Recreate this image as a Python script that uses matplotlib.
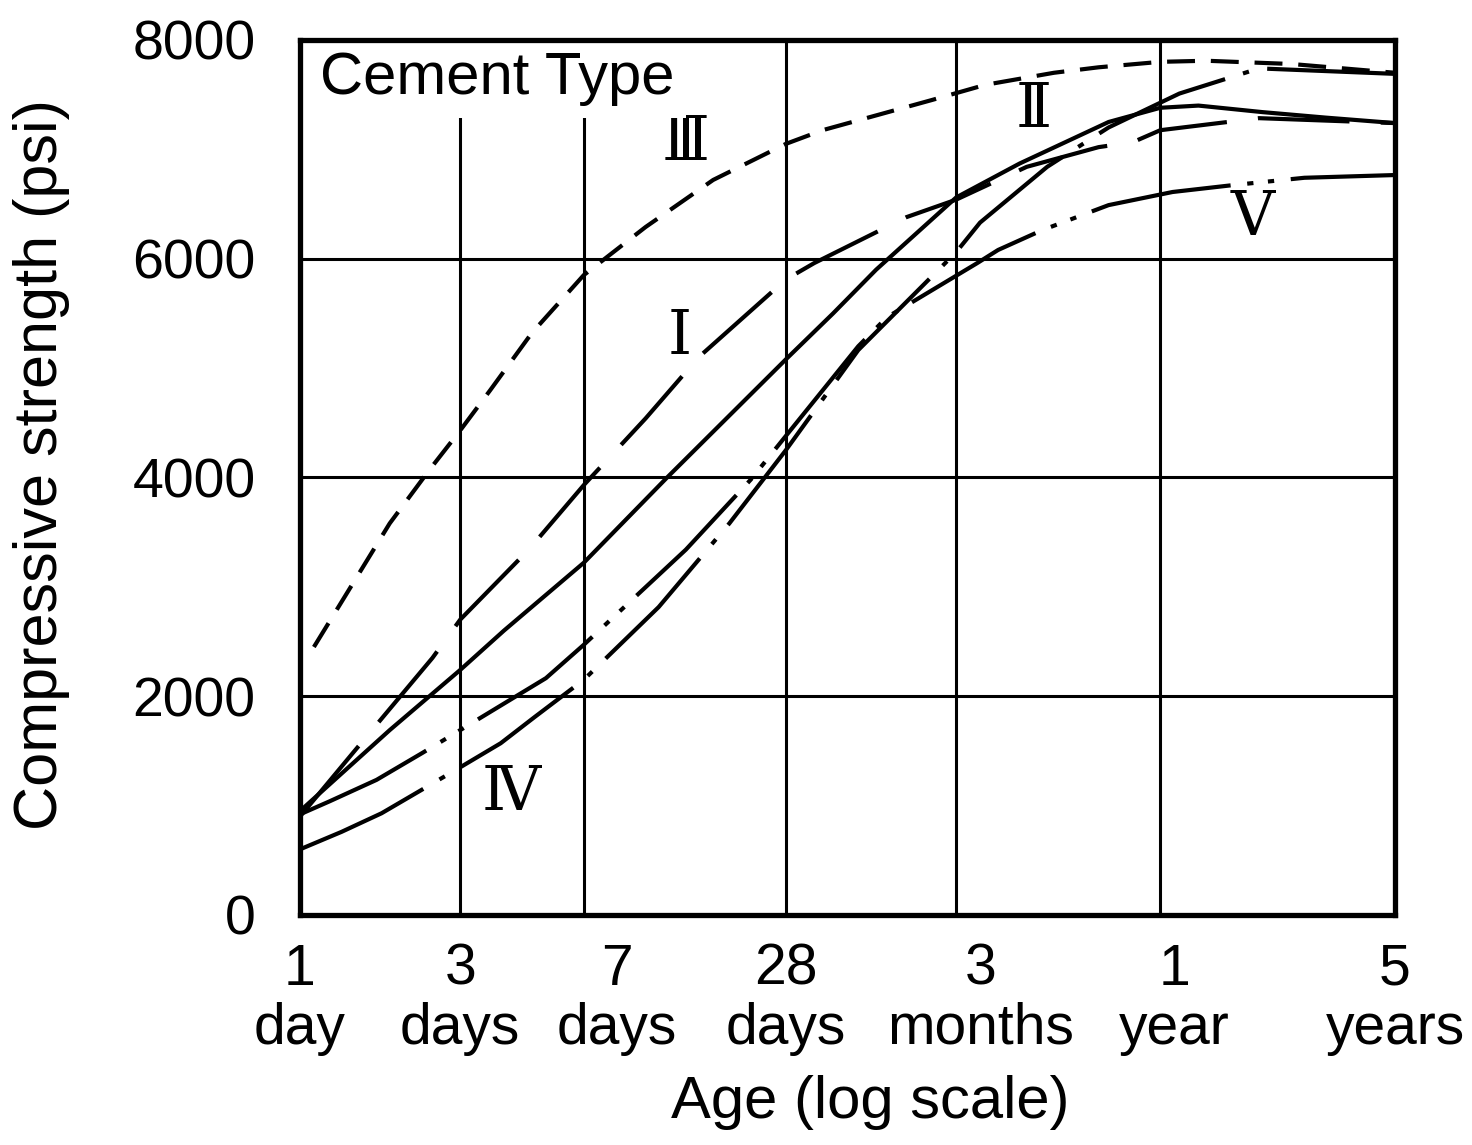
import matplotlib
matplotlib.use('Agg')
import matplotlib.pyplot as plt
from matplotlib.transforms import ScaledTranslation

plt.rcParams['font.family'] = ['Liberation Sans', 'DejaVu Sans']

# age ticks (days) and their labels
tick_days = [1, 3, 7, 28, 90, 365, 1825]
tick_labels = ['1\nday', '3\ndays', '7\ndays', '28\ndays', '3\nmonths', '1\nyear', '5\nyears']
ytick_vals = [0, 2000, 4000, 6000, 8000]

# strength curves (age in days, strength in psi)
days_i = [1, 1.436, 2.48, 3, 4.8, 7, 10.7, 15.4, 28, 34, 64, 90, 146, 239, 302, 365, 718, 1825]
str_i = [900, 1480, 2350, 2700, 3340, 3930, 4540, 5100, 5810, 5960, 6380, 6540, 6840, 7020, 7065, 7175, 7285, 7240]

days_ii = [1, 1.85, 3, 4.05, 7, 12.4, 28, 38.7, 52, 90, 139, 256, 365, 474, 737, 1135, 1825]
str_ii = [950, 1690, 2240, 2600, 3220, 4000, 5080, 5500, 5900, 6560, 6870, 7250, 7380, 7400, 7340, 7290, 7240]

days_iii = [1.1, 1.85, 2.43, 3, 3.69, 4.9, 7, 10.7, 17, 28, 36, 76, 110, 176, 239, 365, 500, 900, 1825]
str_iii = [2450, 3580, 4070, 4430, 4800, 5320, 5850, 6290, 6720, 7050, 7175, 7450, 7590, 7700, 7750, 7800, 7810, 7780, 7700]

days_iv = [1, 1.33, 1.75, 3, 3.96, 5.0, 7, 11.7, 19, 28, 46, 90, 106, 168, 256, 416, 718, 1825]
str_iv = [600, 760, 930, 1350, 1570, 1810, 2150, 2815, 3580, 4250, 5165, 6060, 6330, 6840, 7200, 7510, 7740, 7690]

days_v = [1, 1.227, 1.69, 2.31, 3, 5.4, 7, 14.1, 22, 28, 46, 56, 104, 120, 162, 256, 397, 589, 980, 1825]
str_v = [920, 1040, 1235, 1480, 1690, 2165, 2470, 3340, 3980, 4380, 5200, 5465, 5960, 6080, 6260, 6490, 6610, 6670, 6740, 6765]

# curve labels (roman numerals) placed next to their curves
label_text = ['\u2160', '\u2161', '\u2162', '\u2163', '\u2164']
label_days = [13.5, 153, 14.1, 4.25, 690]
label_str = [5280, 7360, 7057, 1115, 6370]

fig = plt.figure(figsize=(14.72, 11.45), dpi=100)
ax = fig.add_axes([0.2038, 0.2009, 0.7439, 0.7642])

lw = 3
ax.plot(days_i, str_i, color='black', lw=lw, dashes=(22, 7.5))
ax.plot(days_ii, str_ii, color='black', lw=lw)
ax.plot(days_iii, str_iii, color='black', lw=lw, dashes=(6.7, 3.8))
ax.plot(days_iv, str_iv, color='black', lw=lw, dashes=(33, 4.5, 1.5, 4.5))
ax.plot(days_v, str_v, color='black', lw=lw, dashes=(34, 4, 1.5, 3.5, 1.5, 4))

for t, x, y in zip(label_text, label_days, label_str):
    ax.text(x, y, t, ha='center', va='center', fontsize=44,
            family=['DejaVu Serif', 'DejaVu Sans'])

ax.text(0.018, 0.987, 'Cement Type', transform=ax.transAxes, ha='left', va='top',
        fontsize=43, zorder=3,
        bbox=dict(facecolor='white', edgecolor='none', pad=8))

ax.set_xscale('log')
ax.set_xlim(1, 1825)
ax.set_ylim(0, 8000)
ax.set_xticks(tick_days)
ax.set_xticklabels(tick_labels, linespacing=1.12)
ax.xaxis.set_minor_locator(matplotlib.ticker.NullLocator())
ax.set_yticks(ytick_vals)
ax.tick_params(axis='x', length=0, pad=20, labelsize=41)
ax.tick_params(axis='y', length=0, pad=32, labelsize=40)
ax.grid(True, color='black', lw=2.2)

# the printed labels sit a little right of some grid lines
shift_px = [0, 0, 33, 0, 24, 14, 0]
for lab, dx in zip(ax.get_xticklabels(), shift_px):
    lab.set_transform(lab.get_transform() + ScaledTranslation(dx / 100, 0, fig.dpi_scale_trans))

for s in ax.spines.values():
    s.set_linewidth(3.8)
    s.set_zorder(5)

fig.text(0.0285, 0.594, 'Compressive strength (psi)', rotation=90,
         ha='center', va='center', fontsize=44)
fig.text(0.591, 0.0367, 'Age (log scale)', ha='center', va='center', fontsize=43)

fig.savefig('out.png', dpi=100)
